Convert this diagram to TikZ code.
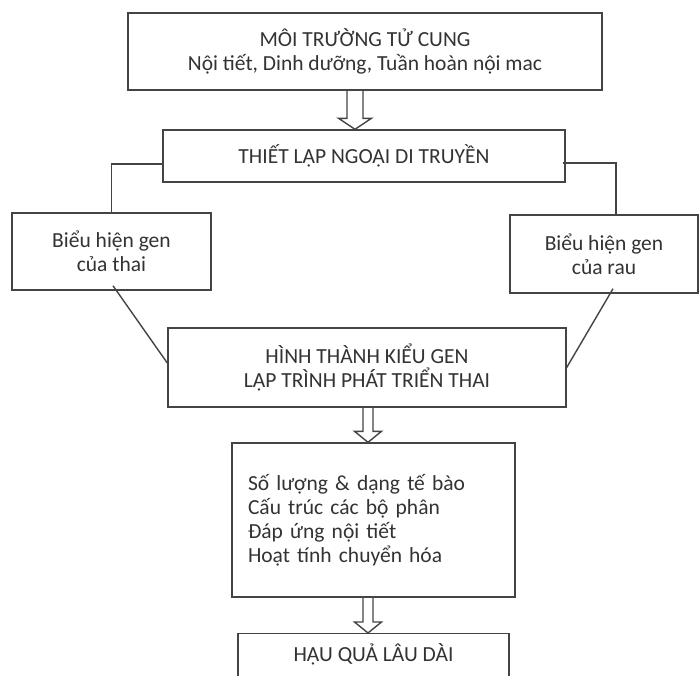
\documentclass[tikz,border=0pt]{standalone}
\usepackage{fontspec}
\setmainfont{Carlito}
\usetikzlibrary{calc}
\definecolor{ln}{HTML}{444444}
\definecolor{tx}{HTML}{333333}
\tikzset{
  box/.style={draw=ln, line width=1.4pt, text=tx, align=center, inner sep=0pt,
    font=\fontsize{21.5}{24}\selectfont},
  conn/.style={draw=ln, line width=1.4pt},
}
\newcommand\hollowarrow[5]{%
  \draw[conn, line join=miter] ($(#1)+(-#3,0)$) -- ($(#2)+(-#3,-#5)$) -- ($(#2)+(-#4,-#5)$) -- (#2)
    -- ($(#2)+(#4,-#5)$) -- ($(#2)+(#3,-#5)$) -- ($(#1)+(#3,0)$);}
\begin{document}
\begin{tikzpicture}[x=1pt,y=-1pt]
\useasboundingbox (0,0) rectangle (699,675);
\begin{scope}
\clip (0,0) rectangle (699,675);
\fill[white] (0,0) rectangle (699,675);
\node[box, minimum width=474pt, minimum height=77pt] (top) at (365,51.5)
  {MÔI TRƯỜNG TỬ CUNG\\Nội tiết, Dinh dưỡng, Tuần hoàn nội mac};
\node[box, minimum width=402pt, minimum height=52pt] (box2) at (364,156)
  {THIẾT LẬP NGOẠI DI TRUYỀN};
\node[box, minimum width=199pt, minimum height=77pt] (lbox) at (111.5,251.5)
  {Biểu hiện gen\\của thai};
\node[box, minimum width=188pt, minimum height=78pt] (rbox) at (604,254)
  {Biểu hiện gen\\của rau};
\node[box, minimum width=398pt, minimum height=79pt] (box4) at (367,367.5)
  {HÌNH THÀNH KIỂU GEN\\LẬP TRÌNH PHÁT TRIỂN THAI};
\node[box, minimum height=154pt, text width=251pt, inner xsep=16pt, align=left] (box5) at (373.5,520)
  {Số lượng \& dạng tế bào\\Cấu trúc các bộ phân\\Đáp ứng nội tiết\\Hoạt tính chuyển hóa};
\node[box, anchor=north, minimum width=271pt, text height=14pt, text depth=40pt, inner ysep=14pt] (box6) at (373.5,633)
  {HẬU QUẢ LÂU DÀI};
% connectors
\draw[conn] ($(box2.west)+(0,8)$) -| (lbox.north);
\draw[conn] ($(box2.east)+(-3,7)$) -| ($(rbox.north)+(12,0)$);
\draw[conn] ($(lbox.south)+(1.5,-5)$) -- ($(box4.west)+(0,-4.5)$);
\draw[conn] ($(rbox.south)+(9,-5)$) -- (box4.east);
% block arrows
\coordinate (a1s) at ($(top.south)+(-10,0)$);
\coordinate (a1e) at (a1s |- box2.north);
\hollowarrow{a1s}{a1e}{8}{16.5}{11}
\coordinate (a2s) at ($(box4.south)+(1,0)$);
\coordinate (a2e) at (a2s |- box5.north);
\hollowarrow{a2s}{a2e}{5}{13.5}{11}
\coordinate (a3s) at ($(box5.south)+(-5.5,0)$);
\coordinate (a3e) at (a3s |- box6.north);
\hollowarrow{a3s}{a3e}{5}{13.5}{11}
\end{scope}
\end{tikzpicture}
\end{document}
